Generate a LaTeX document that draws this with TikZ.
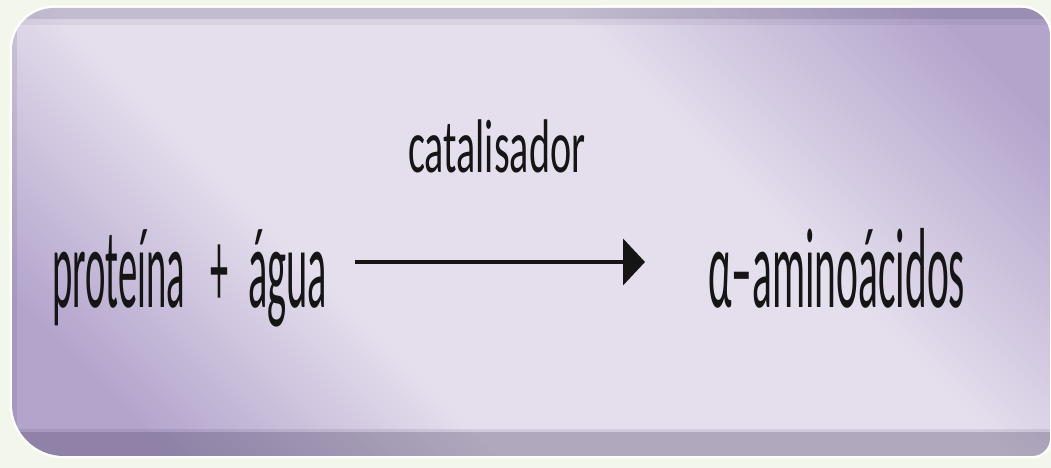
\documentclass[tikz,border=0pt]{standalone}
\usepackage{fontspec}
\setmainfont{Carlito}
\usetikzlibrary{arrows.meta}
\definecolor{pagebg}{HTML}{F3F6EA}
\definecolor{slabdark}{HTML}{B3A4CC}
\definecolor{slablight}{HTML}{E5DFED}
\definecolor{bevel}{HTML}{4A4060}
\definecolor{ink}{HTML}{151515}
% diagonal band: dark at both ends, light through the middle
\pgfdeclareverticalshading{slabband}{100bp}{color(0bp)=(slabdark); color(22bp)=(slabdark); color(38bp)=(slablight); color(62bp)=(slablight); color(80bp)=(slabdark); color(100bp)=(slabdark)}
\newcommand{\squeeze}[2]{\resizebox{#1}{\height}{#2}}
\tikzset{
  txt/.style={inner sep=0pt, text=ink, anchor=base west},
  bigtxt/.style={txt, font=\fontsize{114}{114}\selectfont},
  smalltxt/.style={txt, font=\fontsize{76}{76}\selectfont},
  reaction/.style={draw=ink, line width=4.5pt, -{Triangle[length=22pt, width=46pt]}},
}
\begin{document}
\begin{tikzpicture}[x=1pt, y=1pt]
\useasboundingbox (0,0) rectangle (1051,468);
\fill[pagebg] (0,0) rectangle (1051,468);

% outline of the slab
\def\slab{(54,460) -- (1022,460) arc[start angle=90, end angle=0, radius=28]
  -- (1050,30) arc[start angle=0, end angle=-90, radius=18]
  -- (64,12) arc[start angle=270, end angle=180, radius=52]
  -- (12,418) arc[start angle=180, end angle=90, radius=42] -- cycle}

\draw[white, line width=5pt] \slab;
\shade[shading=slabband, shading angle=-45] \slab;

\begin{scope}
  \clip \slab;
  % upper bevel
  \fill[bevel, opacity=0.22] (0,449) rectangle (1051,468);
  \fill[bevel, opacity=0.08] (0,443) rectangle (1051,449);
  % lower bevel
  \fill[bevel, opacity=0.34] (0,0) rectangle (1051,36);
  \fill[bevel, opacity=0.12] (0,36) rectangle (1051,39);
  % left rim
  \fill[bevel, opacity=0.12] (12,0) rectangle (17,468);
\end{scope}

\node[bigtxt] (reag) at (52,160)
  {\squeeze{133pt}{proteína}\hspace{25pt}\squeeze{18pt}{+}\hspace{20pt}\squeeze{79pt}{água}};
\node[smalltxt] (cat) at (408,295) {\squeeze{177pt}{catalisador}};
\node[bigtxt] (prod) at (708,160) {\squeeze{257pt}{α–aminoácidos}};

\coordinate (arrowstart) at (355,206);
\coordinate (arrowend) at (645,206);
\draw[reaction] (arrowstart) -- (arrowend);
\end{tikzpicture}
\end{document}
